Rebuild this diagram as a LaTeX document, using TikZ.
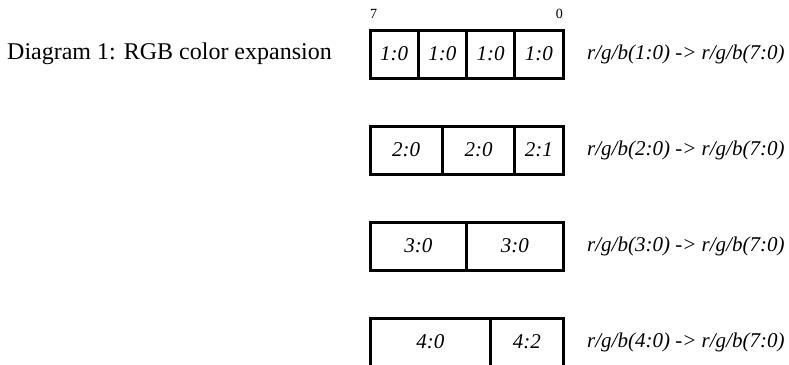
\documentclass[tikz,border=0pt]{standalone}
\usepackage{fontspec}
\setmainfont{Liberation Serif}
\usetikzlibrary{positioning}

\newcommand{\bitw}{24.125pt}

\begin{document}
\begin{tikzpicture}[x=1pt,y=-1pt,
                    bitcell/.style={draw,line width=3pt,outer sep=0pt,inner sep=0pt,
                                    minimum height=48pt,font=\fontsize{21}{25}\selectfont\itshape},
                    rowlabel/.style={inner sep=0pt,font=\fontsize{21}{25}\selectfont\itshape},
                    bitnum/.style={inner sep=0pt,font=\fontsize{14}{16}\selectfont}]

  \useasboundingbox (0,0) rectangle (789,364);

  % 1 bit per colour -> 4 fields
  \node[bitcell, minimum width=2*\bitw, anchor=north west] (A1) at (370,30) {1:0};
  \node[bitcell, minimum width=2*\bitw] (A2) [right = 0pt of A1] {1:0};
  \node[bitcell, minimum width=2*\bitw] (A3) [right = 0pt of A2] {1:0};
  \node[bitcell, minimum width=2*\bitw] (A4) [right = 0pt of A3] {1:0};

  % 2 bits
  \node[bitcell, minimum width=3*\bitw, anchor=north west] (B1) at (370,126) {2:0};
  \node[bitcell, minimum width=3*\bitw] (B2) [right = 0pt of B1] {2:0};
  \node[bitcell, minimum width=2*\bitw] (B3) [right = 0pt of B2] {2:1};

  % 3 bits
  \node[bitcell, minimum width=4*\bitw, anchor=north west] (C1) at (370,222) {3:0};
  \node[bitcell, minimum width=4*\bitw] (C2) [right = 0pt of C1] {3:0};

  % 4 bits
  \node[bitcell, minimum width=5*\bitw, anchor=north west] (D1) at (370,318) {4:0};
  \node[bitcell, minimum width=3*\bitw] (D2) [right = 0pt of D1] {4:2};

  \node[bitnum, anchor=base west] (msb) at ([yshift=12pt]A1.north west) {7};
  \node[bitnum, anchor=base east] (lsb) at ([yshift=12pt]A4.north east) {0};

  \node[inner sep=0pt, font=\fontsize{24}{28}\selectfont] (title) [left = 38pt of A1]
       {Diagram 1: RGB color expansion};

  \node[rowlabel] (LA) [right = 24pt of A4] {r/g/b(1:0) -> r/g/b(7:0)};
  \node[rowlabel] (LB) [right = 24pt of B3] {r/g/b(2:0) -> r/g/b(7:0)};
  \node[rowlabel] (LC) [right = 24pt of C2] {r/g/b(3:0) -> r/g/b(7:0)};
  \node[rowlabel] (LD) [right = 24pt of D2] {r/g/b(4:0) -> r/g/b(7:0)};
\end{tikzpicture}
\end{document}
